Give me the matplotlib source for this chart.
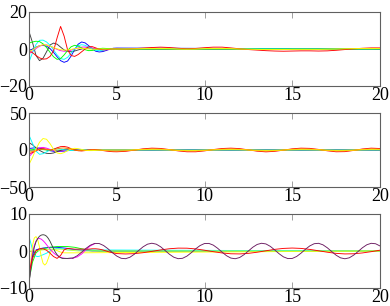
import numpy as np
import matplotlib
matplotlib.use("Agg")
import matplotlib.pyplot as plt

plt.rcParams['font.family'] = ['Liberation Serif', 'DejaVu Serif']

# ---- time grids ----
T_EARLY = [round(0.2 * i, 2) for i in range(26)]          # 0 .. 5.0
T_TAIL = [round(5.5 + 0.5 * i, 2) for i in range(30)]     # 5.5 .. 20
T_FAST = [round(0.1 * i, 2) for i in range(26)]           # 0 .. 2.5
T_MAG_MID = [2.75, 3.0, 3.25, 3.5, 3.75]
T_PURPLE = [round(2.5 + 0.25 * i, 2) for i in range(71)]  # 2.5 .. 20
T_END = [20.0]

XTICKS = [0, 5, 10, 15, 20]
YTICKS1 = [-20, 0, 20]
YTICKS2 = [-50, 0, 50]
YTICKS3 = [-10, 0, 10]

# ---- panel 1 (values on T_EARLY, then tails) ----
p1_red = [-1, -2, -3.5, -4.8, -5.5, -5.3, -4, -1, 6, 12.2, 7, -0.5, -3.5, -4, -3,
          -1.5, 0, 1.2, 1.3, 0.6, -0.1, -0.45, -0.4, -0.1, 0.1, 0.1]
p1_red_tail = [0, 0.2, 0.5, 0.8, 1.0, 0.8, 0.4, 0.1, 0.3, 0.7, 1.0, 1.0, 0.6, 0.1, -0.3,
               -0.6, -0.9, -1.1, -1.2, -1.1, -1.0, -1.0, -1.1, -1.0, -0.7, -0.3, 0.1, 0.4, 0.6, 0.6]
p1_blue = [-1, 0, 1, 1.8, 2, 1.5, 0.2, -1.8, -4.2, -6.3, -7.2, -6.5, -3.8, -0.3, 2.6,
           3.8, 3.3, 1.8, 0.1, -1.2, -1.6, -1.4, -0.8, -0.1, 0.4, 0.5]
p1_gray = [9.4, 3.5, -3.5, -6.3, -5, -1.5, 2.2, 3.2, 2.6, 1.0, -0.5, -1.3, -1.5, -1.1, -0.5,
           0, 0.4, 0.5, 0.4, 0.1, -0.1, -0.2, -0.1, 0, 0, 0]
p1_cyan = [-7, -2, 2.5, 4.7, 4.8, 3.8, 2, -0.5, -3.2, -5.2, -5.6, -4.5, -2.2, 0.2, 1.8,
           2.3, 2.0, 1.0, 0, -0.7, -0.9, -0.7, -0.3, 0.1, 0.3, 0.3]
p1_green = [3.2, 3.8, 4.2, 4.0, 2.8, 0.8, -1.8, -4.2, -5.6, -5.2, -3.2, -0.8, 1.2, 2.0, 1.6,
            0.6, -0.4, -0.9, -0.8, -0.3, 0.2, 0.4, 0.3, 0.1, -0.1, -0.1]
p1_magenta = [-2.5, -1.2, 0.3, 1.5, 2.2, 2.2, 1.6, 0.7, -0.2, -0.9, -1.2, -1.1, -0.6, 0, 0.6,
              1.0, 1.1, 0.9, 0.5, 0.1, -0.2, -0.4, -0.4, -0.3, -0.1, 0]
p1_yellow = [-1.5, -0.5, 0.8, 1.8, 2.3, 2.2, 1.6, 0.8, 0.1, -0.4, -0.6, -0.5, -0.2, 0.2, 0.4,
             0.4, 0.2, 0, -0.1, -0.1, 0, 0, 0, 0, 0, 0]
p1_yellow_tail = [0, 0.1, 0.2, 0.3, 0.3, 0.2, 0, -0.1, 0, 0.2, 0.3, 0.3, 0.2, 0, -0.1,
                  -0.2, -0.3, -0.3, -0.3, -0.2, -0.2, -0.2, -0.2, -0.1, 0, 0.1, 0.2, 0.3, 0.3, 0.3]

# ---- panel 2 ----
p2_cyan = [20, 9, -1.5, -5.8, -5, -2.5, 0, 1.5, 1.8, 1.2, 0.3, -0.4, -0.6, -0.4, -0.1,
           0.1, 0.2, 0.1, 0, 0, 0, 0, 0, 0, 0, 0]
p2_yellow = [-19.4, -10, 1.5, 10.5, 15.5, 14.5, 8.5, 1.0, -4.0, -5.0, -3.5, -0.8, 1.5, 2.3, 1.8,
             0.8, -0.2, -0.8, -0.8, -0.5, -0.2, 0, 0, 0, 0, 0]
p2_black = [10, 7, 3, -0.5, -3, -4.5, -4.8, -4, -2.2, -0.5, 0.8, 1.4, 1.2, 0.5, -0.2,
            -0.5, -0.5, -0.3, 0, 0.1, 0.1, 0, 0, 0, 0, 0]
p2_magenta = [-9, -4, 0.5, 3, 3.5, 2.5, 0.8, -0.8, -1.6, -1.5, -0.8, 0, 0.5, 0.6, 0.4,
              0.1, -0.1, -0.2, -0.1, 0, 0, 0, 0, 0, 0, 0]
p2_red = [-5, -3.5, -1, 1.2, 1.8, 1.0, 0, 1.0, 3.0, 4.5, 4.8, 3.8, 1.8, 0, -1.0,
          -1.3, -0.8, 0, 0.6, 0.5, 0, -0.7, -1.4, -2.0, -2.3, -2.4]
p2_red_tail = [-1.8, -0.2, 1.6, 2.5, 2.1, 0.6, -1.25, -2.4, -2.4, -1.2, 0.6, 2.0, 2.5, 1.9, 0.2,
               -1.6, -2.5, -1.8, -0.2, 1.6, 2.5, 2.2, 0.8, -1.1, -2.4, -2.2, -0.6, 1.4, 2.5, 2.0]
p2_orange = [-3, -2, -0.5, 0.8, 1.2, 0.8, 0.2, 0.5, 1.5, 2.5, 2.8, 2.2, 1.0, 0, -0.6,
             -0.8, -0.5, 0, 0.4, 0.3, 0, -0.4, -0.8, -1.2, -1.4, -1.5]
p2_orange_tail = [-1.1, -0.1, 1.0, 1.5, 1.3, 0.4, -0.75, -1.4, -1.4, -0.7, 0.4, 1.2, 1.5, 1.1, 0.1,
                  -1.0, -1.5, -1.1, -0.1, 1.0, 1.5, 1.3, 0.5, -0.7, -1.4, -1.3, -0.4, 0.8, 1.5, 1.2]
p2_blue = [2, 2.6, 3, 2.4, 1.5, 0.3, -1, -1.7, -2, -1.8, -1.5, -0.9, -0.3, 0.2, 0.5,
           0.6, 0.6, 0.4, 0.2, 0, -0.2, -0.2, -0.1, 0, 0, 0]
p2_green = [0, 0.5, 1, 0.8, 0.5, 0, -0.5, -0.6, -0.4, -0.2, 0, 0.1, 0.1, 0, 0,
            0, 0, 0, 0, 0, 0, 0, 0, 0, 0, 0]
p2_yellow_tail = [0, 0.2, 0.4, 0.5, 0.4, 0.1, -0.3, -0.5, -0.5, -0.2, 0.1, 0.4, 0.5, 0.4, 0,
                  -0.3, -0.5, -0.4, 0, 0.3, 0.5, 0.4, 0.2, -0.2, -0.5, -0.4, -0.1, 0.3, 0.5, 0.4]

# ---- panel 3 ----
p3_black = [-8.6, -5, -1.5, 1, 2.5, 3.4, 4.0, 4.3, 4.4, 4.3, 4.0, 3.4, 2.6, 1.6, 0.6,
            -0.3, -1.0, -1.5, -1.8, -2.0, -2.0, -2.0, -2.0, -1.95, -1.9, -1.92]
p3_purple = [-1.92, -1.27, -0.31, 0.72, 1.58, 2.05, 2.02, 1.49, 0.60, -0.44,
             -1.37, -1.97, -2.08, -1.69, -0.88, 0.14, 1.13, 1.84, 2.10, 1.85,
             1.14, 0.15, -0.87, -1.68, -2.08, -1.97, -1.38, -0.45, 0.59, 1.48,
             2.02, 2.05, 1.59, 0.73, -0.30, -1.26, -1.91, -2.09, -1.77, -1.00,
             0.0, 1.01, 1.77, 2.09, 1.91, 1.25, 0.29, -0.74, -1.59, -2.05,
             -2.01, -1.48, -0.58, 0.46, 1.38, 1.97, 2.08, 1.67, 0.86, -0.16,
             -1.14, -1.85, -2.10, -1.84, -1.12, -0.14, 0.88, 1.69, 2.08, 1.96, 1.36]
p3_magenta = [-9, -4, -0.5, 1.5, 2.7, 3.3, 3.4, 3.2, 2.8, 2.3, 1.7, 1.1, 0.5, 0, -0.5,
              -0.9, -1.2, -1.5, -1.7, -1.85, -1.95, -2.0, -2.05, -2.05, -2.0, -1.95]
p3_magenta_mid = [-1.6, -0.8, 0.4, 1.4, 2.0]
p3_red = [-6, -2, 0, 0.6, 0.6, 0.2, -0.6, -1.5, -2.0, -1.2, 0.3, 0.7, 0.6, 0.5, 0.5,
          0.5, 0.5, 0.5, 0.6, 0.6, 0.5, 0.3, 0.0, -0.3, -0.5, -0.7]
p3_red_tail = [-0.80, -0.72, -0.46, -0.10, 0.29, 0.61, 0.78, 0.76, 0.56, 0.21, -0.18, -0.53,
               -0.75, -0.79, -0.64, -0.33, 0.06, 0.44, 0.70, 0.80, 0.70, 0.43, 0.06, -0.33,
               -0.64, -0.79, -0.75, -0.52, -0.18, 0.22]
p3_yellow = [-8, -3, 1.5, 3.5, 3.9, 3.0, 1.0, -1.5, -3.3, -3.8, -3.3, -2.0, -0.6, 0.2, 0.4,
             0.3, 0.1, -0.1, -0.3, -0.4, -0.5, -0.5, -0.5, -0.5, -0.5, -0.5]
p3_cyan = [3.9, 2.2, 0.3, -1.0, -1.4, -1.5, -1.4, -1.2, -1.0, -0.8, -0.6, -0.3, 0, 0.3, 0.5,
           0.6, 0.7, 0.7, 0.7, 0.6, 0.5, 0.4, 0.3, 0.3, 0.3, 0.3]
p3_green = [-8, -3, -0.5, 0.3, 0.6, 0.8, 1.0, 1.1, 1.2, 1.2, 1.2, 1.2, 1.1, 1.0, 0.8,
            0.6, 0.4, 0.3, 0.2, 0.1, 0, 0, 0, 0, 0, 0]
p3_blue = [-6, -1.5, 0.3, 0.6, 0.8, 0.9, 1.0, 1.0, 1.0, 0.9, 0.8, 0.7, 0.5, 0.4, 0.3,
           0.2, 0.1, 0.1, 0, 0, 0, 0, 0, 0, 0, 0]
p3_lime = [0, 0, 0.1, 0.2, 0.3, 0.4, 0.5, 0.5, 0.5, 0.5, 0.4, 0.3, 0.2, 0.1, 0,
           0, 0, 0, 0, 0, 0, 0, 0, 0, 0, 0]

C_RED = '#ff0000'
C_BLUE = '#0000ff'
C_GRAY = '#404040'
C_CYAN = '#00ffff'
C_GREEN = '#00ff00'
C_MAGENTA = '#ff00ff'
C_YELLOW = '#ffff00'
C_ORANGE = '#ff8000'
C_PURPLE = '#6a1a60'
C_LIME = '#c0ff40'
LW = 0.65

fig = plt.figure(figsize=(3.9, 3.06), dpi=100)
bottoms = [1 - 86 / 306, 1 - 187 / 306, 1 - 288 / 306]
h = 74 / 306
axes = [fig.add_axes([29 / 390, b, 351 / 390, h]) for b in bottoms]


def flat_end(ax, vals, color, x=T_EARLY):
    ax.plot(list(x) + T_END, list(vals) + [0], color=color, lw=LW)


def with_tail(ax, vals, tail, color, x=T_EARLY):
    ax.plot(list(x) + T_TAIL, list(vals) + list(tail), color=color, lw=LW)


# panel 1
ax = axes[0]
flat_end(ax, p1_blue, C_BLUE)
flat_end(ax, p1_gray, C_GRAY)
flat_end(ax, p1_magenta, C_MAGENTA)
flat_end(ax, p1_cyan, C_CYAN)
flat_end(ax, p1_green, C_GREEN)
with_tail(ax, p1_red, p1_red_tail, C_RED)
with_tail(ax, p1_yellow, p1_yellow_tail, C_YELLOW)
ax.set_ylim(-20, 20)
ax.set_yticks(YTICKS1)

# panel 2
ax = axes[1]
flat_end(ax, p2_blue, C_BLUE)
flat_end(ax, p2_green, C_GREEN)
flat_end(ax, p2_magenta, C_MAGENTA)
flat_end(ax, p2_black, C_GRAY)
flat_end(ax, p2_cyan, C_CYAN)
with_tail(ax, p2_red, p2_red_tail, C_RED)
with_tail(ax, p2_orange, p2_orange_tail, C_ORANGE)
with_tail(ax, p2_yellow, p2_yellow_tail, C_YELLOW)
ax.set_ylim(-50, 50)
ax.set_yticks(YTICKS2)

# panel 3
ax = axes[2]
flat_end(ax, p3_blue, C_BLUE)
flat_end(ax, p3_green, C_GREEN)
flat_end(ax, p3_cyan, C_CYAN, x=T_FAST)
flat_end(ax, p3_yellow, C_YELLOW, x=T_FAST)
flat_end(ax, p3_lime, C_LIME)
ax.plot(T_FAST + T_MAG_MID, p3_magenta + p3_magenta_mid, color=C_MAGENTA, lw=LW)
ax.plot(T_FAST, p3_black, color=C_GRAY, lw=LW)
with_tail(ax, p3_red, p3_red_tail, C_RED)
ax.plot(T_PURPLE, p3_purple, color=C_PURPLE, lw=LW)
ax.set_ylim(-10, 10)
ax.set_yticks(YTICKS3)

for ax in axes:
    ax.set_xlim(0, 20)
    ax.set_xticks(XTICKS)
    ax.tick_params(direction='in', top=True, right=True, length=4, width=0.6,
                   color='#909090', labelsize=13, pad=1)
    for s in ax.spines.values():
        s.set_color('#606060')
        s.set_linewidth(0.8)

fig.savefig('out.png', dpi=100)
